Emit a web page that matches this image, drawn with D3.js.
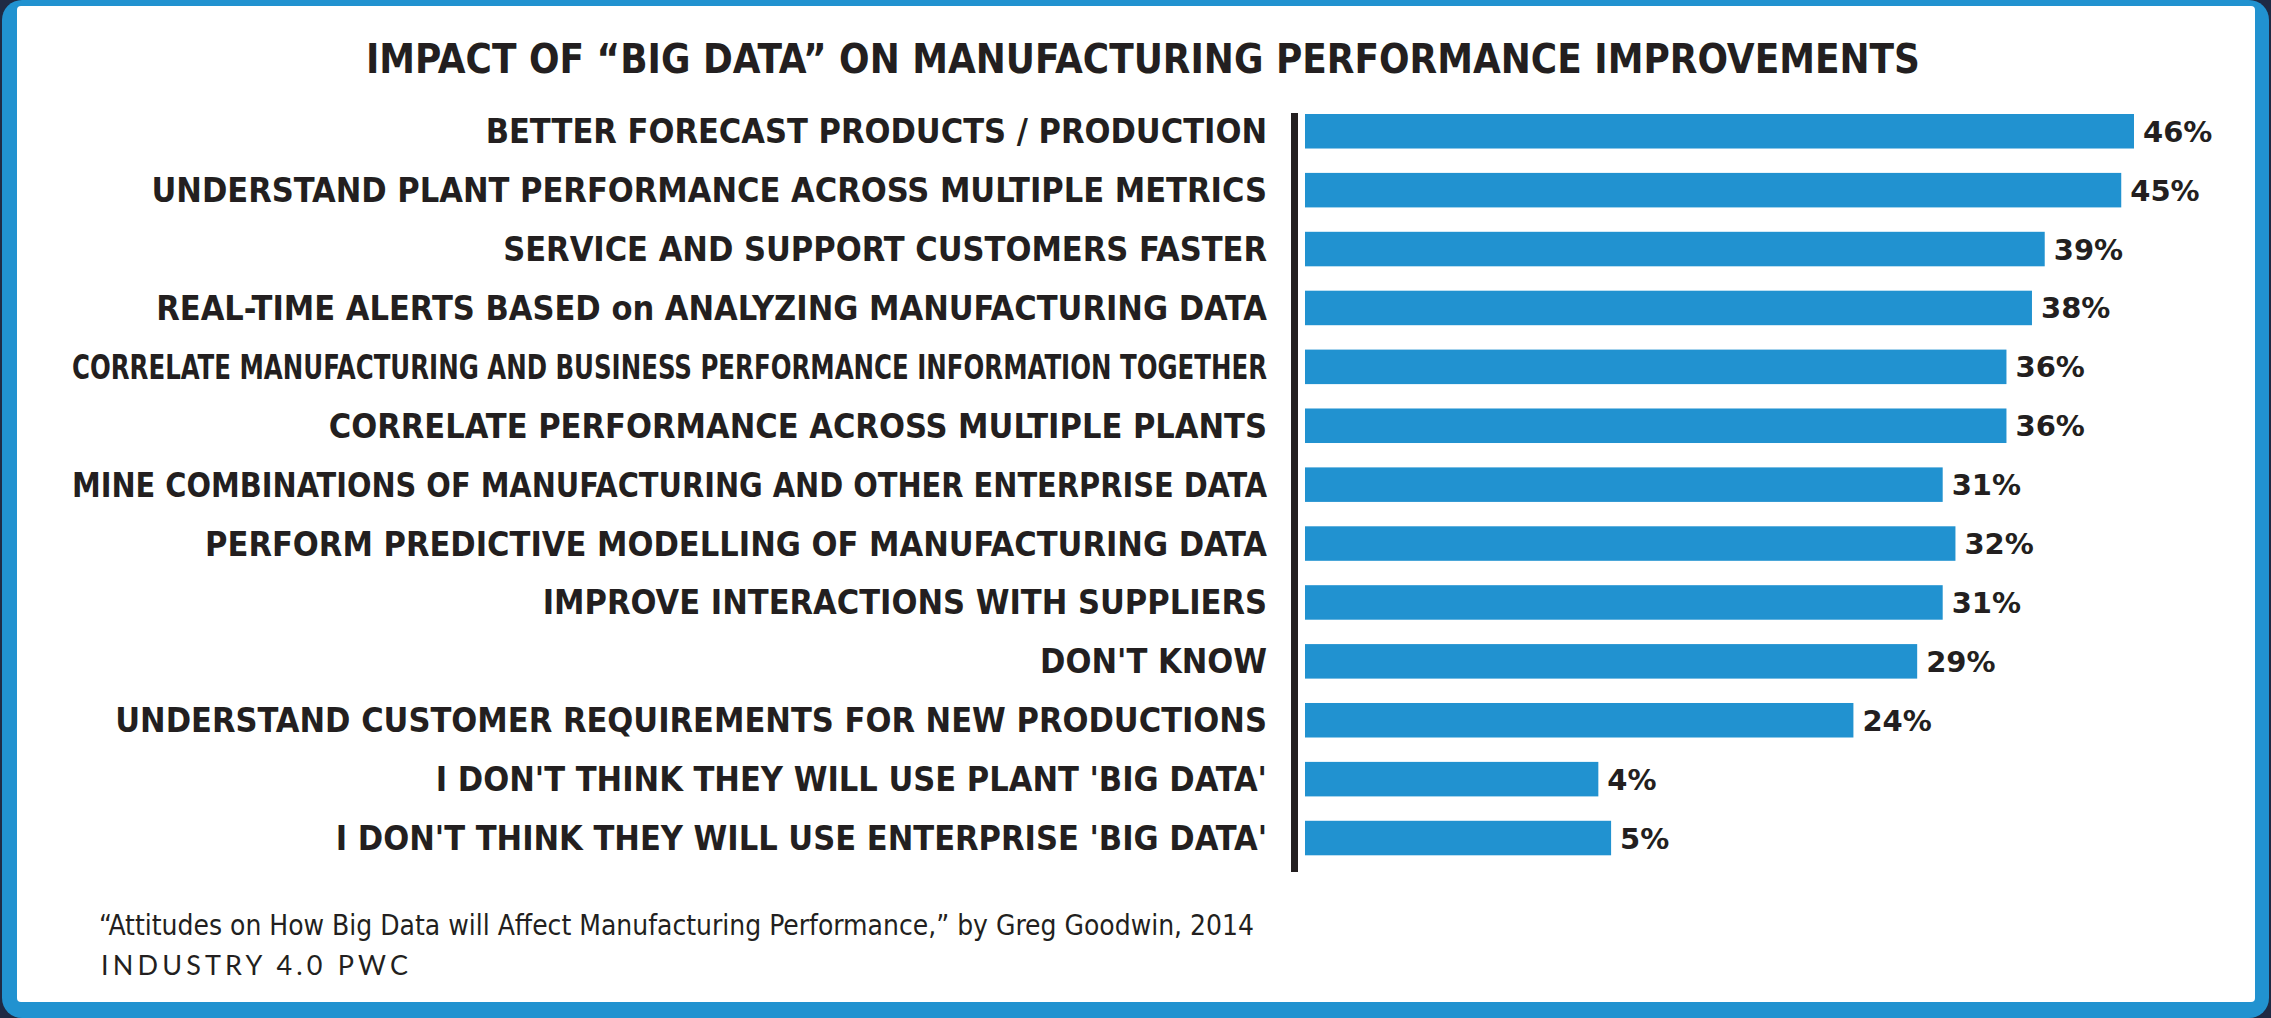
<!DOCTYPE html>
<html>
<head>
<meta charset="utf-8">
<title>Impact of Big Data on Manufacturing</title>
<script src="https://cdn.jsdelivr.net/npm/d3@7"></script>
<style>
    body { margin: 0; background: #1f2a44; }
    svg { display: block; }
    .label { font-family: "DejaVu Sans Condensed", "Liberation Sans Narrow", sans-serif; font-stretch: condensed; font-weight: bold; fill: #231f20; }
    .value { font-family: "DejaVu Sans", sans-serif; font-weight: bold; fill: #231f20; }
</style>
</head>
<body>
<svg width="2271" height="1018"></svg>
<script>
    var categories = [
        "BETTER FORECAST PRODUCTS / PRODUCTION",
        "UNDERSTAND PLANT PERFORMANCE ACROSS MULTIPLE METRICS",
        "SERVICE AND SUPPORT CUSTOMERS FASTER",
        "REAL-TIME ALERTS BASED on ANALYZING MANUFACTURING DATA",
        "CORRELATE MANUFACTURING AND BUSINESS PERFORMANCE INFORMATION TOGETHER",
        "CORRELATE PERFORMANCE ACROSS MULTIPLE PLANTS",
        "MINE COMBINATIONS OF MANUFACTURING AND OTHER ENTERPRISE DATA",
        "PERFORM PREDICTIVE MODELLING OF MANUFACTURING DATA",
        "IMPROVE INTERACTIONS WITH SUPPLIERS",
        "DON'T KNOW",
        "UNDERSTAND CUSTOMER REQUIREMENTS FOR NEW PRODUCTIONS",
        "I DON'T THINK THEY WILL USE PLANT 'BIG DATA'",
        "I DON'T THINK THEY WILL USE ENTERPRISE 'BIG DATA'"
    ];
    var values = [46, 45, 39, 38, 36, 36, 31, 32, 31, 29, 24, 4, 5];

    var title = "IMPACT OF \u201cBIG DATA\u201d ON MANUFACTURING PERFORMANCE IMPROVEMENTS";
    var source = "\u201cAttitudes on How Big Data will Affect Manufacturing Performance,\u201d by Greg Goodwin, 2014";
    var credit = "INDUSTRY 4.0 PWC";

    var blue = "#2192d0", ink = "#231f20";

    var svg = d3.select("svg");

    // frame
    svg.append("rect").attr("width", 2271).attr("height", 1018).attr("fill", "#1f2a44");
    svg.append("rect").attr("x", 2).attr("y", 0).attr("width", 2267).attr("height", 1018)
        .attr("rx", 20).attr("fill", blue);
    svg.append("rect").attr("x", 17).attr("y", 6).attr("width", 2238).attr("height", 996)
        .attr("rx", 4).attr("fill", "#fff");

    // the original bars start at an offset baseline (not zero)
    var x = d3.scaleLinear().domain([-19, 46]).range([1305, 2134]);
    var y = d3.scaleBand().domain(categories).range([114, 855.3])
        .paddingInner(0.414).paddingOuter(0);

    var data = categories.map(function(c, i) { return {cat: c, v: values[i]}; });

    svg.append("text")
        .attr("class", "label")
        .attr("x", 366).attr("y", 73)
        .attr("font-size", 41)
        .attr("textLength", 1554).attr("lengthAdjust", "spacingAndGlyphs")
        .text(title);

    svg.selectAll(".bar")
        .data(data)
        .enter().append("rect")
        .attr("class", "bar")
        .attr("x", x(-19))
        .attr("y", function(d) { return y(d.cat); })
        .attr("width", function(d) { return x(d.v) - x(-19); })
        .attr("height", y.bandwidth())
        .attr("fill", blue);

    svg.append("line")
        .attr("x1", 1294.5).attr("x2", 1294.5)
        .attr("y1", 113).attr("y2", 872)
        .attr("stroke", ink).attr("stroke-width", 7);

    var labelRight = 1267, labelLeft = 72;
    svg.selectAll(".label.cat")
        .data(data)
        .enter().append("text")
        .attr("class", "label cat")
        .attr("x", labelRight)
        .attr("y", function(d) { return y(d.cat) + y.bandwidth() / 2 + 12; })
        .attr("text-anchor", "end")
        .attr("font-size", 34)
        .text(function(d) { return d.cat; })
        .each(function() {
            var w = this.getComputedTextLength();
            if (w > labelRight - labelLeft) {
                d3.select(this).attr("textLength", labelRight - labelLeft)
                    .attr("lengthAdjust", "spacingAndGlyphs");
            }
        });

    svg.selectAll(".value")
        .data(data)
        .enter().append("text")
        .attr("class", "value")
        .attr("x", function(d) { return x(d.v) + 9; })
        .attr("y", function(d) { return y(d.cat) + y.bandwidth() / 2 + 10.5; })
        .attr("font-size", 29)
        .text(function(d) { return d.v + "%"; });

    svg.append("text")
        .attr("x", 99).attr("y", 935)
        .attr("font-family", "'Liberation Sans Narrow', 'DejaVu Sans Condensed', sans-serif")
        .attr("font-size", 29).attr("fill", ink)
        .attr("textLength", 1155).attr("lengthAdjust", "spacingAndGlyphs")
        .text(source);

    svg.append("text")
        .attr("x", 101).attr("y", 975)
        .attr("font-family", "Lato, 'Open Sans', sans-serif")
        .attr("font-size", 27).attr("fill", ink)
        .attr("textLength", 307).attr("lengthAdjust", "spacing")
        .text(credit);
</script>
</body>
</html>
